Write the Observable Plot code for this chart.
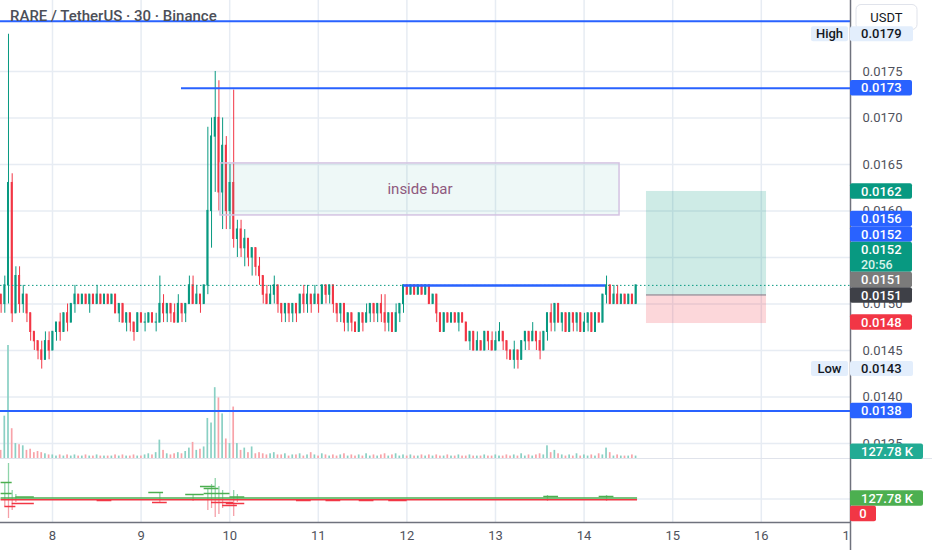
<!DOCTYPE html>
<html>
<head>
<meta charset="utf-8">
<script src="https://cdn.jsdelivr.net/npm/d3@7"></script>
<script src="https://cdn.jsdelivr.net/npm/@observablehq/plot@0.6"></script>
<style>
html,body{margin:0;padding:0;background:#fff;}
#chart{position:relative;width:932px;height:550px;overflow:hidden;background:#fff;}
</style>
</head>
<body>
<div id="chart"></div>
<script>
// ---------------- DATA ----------------
const title = "RARE / TetherUS · 30 · Binance";
const startDay = 7.42;          // first candle, day of month (hourly candles)
const firstOpen = 0.0151;
const closes = [
.0150,.0152,.0163,.0149,.0153,.0150,.0151,.0149,.0147,.0146,
.0145,.0144,.0146,.0145,.0147,.0148,.0147,.0149,.0148,.0150,
.0151,.0150,.0151,.0150,.0151,.0150,.0151,.0150,.0151,.0150,
.0151,.0149,.0150,.0148,.0149,.0148,.0147,.0149,.0148,.0148,
.0149,.0148,.0148,.0150,.0149,.0150,.0149,.0148,.0150,.0149,
.0150,.0152,.0150,.0151,.0150,.0152,.0160,.0168,.0170,.0162,
.0167,.0160,.0163,.0157,.0158,.0156,.0157,.0155,.0156,.0154,
.0153,.0151,.0150,.0151,.0152,.0150,.0149,.0150,.0149,.0150,
.0149,.0151,.0150,.0151,.0150,.0151,.0150,.0152,.0151,.0152,
.0150,.0149,.0150,.0148,.0149,.0148,.0147,.0149,.0148,.0149,
.0150,.0149,.0150,.0149,.0148,.0149,.0147,.0149,.0150,.0152,
.0151,.0152,.0151,.0152,.0151,.0152,.0150,.0151,.0149,.0147,
.0149,.0148,.0149,.0148,.0149,.0148,.0146,.0147,.0145,.0146,
.0145,.0147,.0146,.0145,.0146,.0147,.0146,.0145,.0144,.0145,
.0144,.0146,.0147,.0146,.0147,.0146,.0145,.0147,.0149,.0148,
.0150,.0148,.0149,.0147,.0149,.0148,.0149,.0147,.0148,.0149,
.0147,.0149,.0148,.0151,.0152,.0150,.0151,.0150,.0151,.0150,
.0151,.0150,.0152];
const highs = [
.0151,.0153,.0179,.0164,.0154,.0154,.0152,.0151,.0149,.0147,
.0146,.0146,.0147,.0147,.0147,.0148,.0149,.0149,.0150,.0150,
.0152,.0151,.0151,.0151,.0151,.0151,.0152,.0151,.0151,.0151,
.0151,.0151,.0150,.0150,.0149,.0149,.0148,.0149,.0149,.0149,
.0149,.0149,.0149,.0153,.0151,.0150,.0150,.0150,.0151,.0150,
.0150,.0153,.0153,.0152,.0151,.0152,.0169,.0170,.0175,.0174,
.0170,.0168,.0165,.0173,.0159,.0159,.0158,.0157,.0156,.0156,
.0155,.0153,.0152,.0152,.0153,.0152,.0150,.0150,.0150,.0150,
.0150,.0151,.0152,.0152,.0151,.0152,.0151,.0152,.0152,.0152,
.0152,.0150,.0150,.0150,.0149,.0149,.0148,.0149,.0149,.0150,
.0150,.0150,.0150,.0151,.0151,.0149,.0149,.0150,.0150,.0152,
.0152,.0152,.0152,.0152,.0152,.0152,.0152,.0151,.0151,.0149,
.0149,.0149,.0149,.0149,.0149,.0149,.0148,.0147,.0147,.0147,
.0146,.0147,.0147,.0147,.0147,.0148,.0147,.0146,.0145,.0146,
.0145,.0146,.0147,.0147,.0148,.0147,.0147,.0147,.0149,.0150,
.0150,.0150,.0149,.0149,.0149,.0149,.0149,.0149,.0149,.0149,
.0149,.0149,.0149,.0151,.0153,.0152,.0152,.0152,.0151,.0151,
.0151,.0151,.0152];
const lows = [
.0149,.0149,.0150,.0148,.0149,.0149,.0149,.0148,.0146,.0145,
.0144,.0143,.0144,.0144,.0145,.0146,.0146,.0147,.0147,.0148,
.0149,.0150,.0150,.0150,.0149,.0150,.0150,.0150,.0150,.0150,
.0150,.0149,.0148,.0148,.0147,.0147,.0146,.0147,.0148,.0147,
.0148,.0148,.0147,.0148,.0148,.0148,.0148,.0148,.0148,.0148,
.0148,.0150,.0150,.0150,.0149,.0150,.0151,.0156,.0162,.0160,
.0158,.0158,.0158,.0156,.0155,.0155,.0154,.0154,.0153,.0153,
.0152,.0150,.0150,.0150,.0150,.0149,.0148,.0148,.0148,.0148,
.0148,.0149,.0149,.0149,.0149,.0150,.0149,.0150,.0150,.0150,
.0149,.0148,.0148,.0147,.0147,.0147,.0147,.0147,.0147,.0148,
.0148,.0148,.0148,.0148,.0147,.0147,.0147,.0147,.0148,.0149,
.0151,.0151,.0151,.0151,.0151,.0151,.0150,.0150,.0148,.0147,
.0147,.0148,.0148,.0148,.0147,.0148,.0146,.0145,.0145,.0145,
.0145,.0145,.0145,.0145,.0145,.0146,.0145,.0144,.0144,.0143,
.0143,.0144,.0145,.0145,.0146,.0145,.0144,.0145,.0146,.0147,
.0147,.0148,.0147,.0147,.0147,.0147,.0147,.0147,.0147,.0147,
.0147,.0147,.0148,.0148,.0150,.0150,.0150,.0150,.0150,.0150,
.0150,.0150,.0150];
const volumes = [
8,38,100,27,14,13,12,8,9,6,
7,6,5,4,4,3,4,3,4,3,
4,3,3,4,3,3,4,3,3,3,
3,4,3,4,3,3,4,3,3,4,
5,4,6,17,8,5,4,5,6,5,
7,10,15,8,9,11,36,32,63,54,
40,18,14,46,14,8,10,6,11,5,
6,5,4,5,6,4,4,5,3,4,
4,5,3,4,6,4,3,5,4,3,
4,3,4,5,3,4,3,4,3,5,
3,4,3,4,5,3,4,5,3,4,
3,4,3,3,4,3,4,3,4,3,
3,4,3,3,4,3,3,4,3,3,
3,4,3,3,4,3,3,4,3,4,
3,5,3,4,3,4,5,4,12,6,
8,5,4,3,4,3,5,3,4,3,
4,3,5,4,10,6,3,4,3,3,
3,4,3];

// lower indicator pane (values relative to its baseline)
const spikeIdx  = [1,2,3,4,43,52,56,57,58,59,60,63,64,148,164];
const spikeUp   = [16,35,8,4,6,4,10,14,20,12,8,8,4,3,3];
const spikeDown = [-8,-20,-12,-4,-4,-3,-12,-10,-19,-16,-10,-18,-4,-3,-3];
const greenStart = [0,0,4,40,50,54,55,55,62,147,162];
const greenEnd   = [3,3,9,44,55,58,59,62,66,151,166];
const greenVal   = [16,5,1.5,6,4,12,10,5,1.5,2,2];
const redStart = [1,3,41,57,60,61,26,80,88,97,105];
const redEnd   = [4,9,45,63,64,66,30,84,92,101,110];
const redVal   = [-8,-5,-4,-4,-7,-5,-2,-2,-2,-2,-2];

// drawings
const levelPrices = [0.01804, 0.01732, 0.01385];
const levelStarts = [7.4131, 9.456, 7.4131];
const shortLevelPrice = 0.0152;
const shortLevelTimes = [11.962, 14.242];
const insideBarTimes = [9.896, 14.40];
const insideBarPrices = [0.015952, 0.016511];
const insideBarText = "inside bar";
const positionTimes = [14.704, 16.059];
const positionEntry = 0.015097, positionTarget = 0.01621, positionStop = 0.01479;

// axis ticks
const priceTicks = [0.0135,0.0140,0.0145,0.0150,0.0155,0.0160,0.0165,0.0170,0.0175];
const dayTicks = [8,9,10,11,12,13,14,15,16,17];

// right-scale labels
const labelPrices = [0.01732,0.01621,0.0156,0.01521,0.0152,0.0151,0.01509,0.0148,0.01385];
const labelTexts  = ["0.0173","0.0162","0.0156","0.0152","0.0152","0.0151","0.0151","0.0148","0.0138"];
const labelSubs   = ["","","","","20:56","","","",""];
const labelFills  = ["#2962ff","#089981","#2962ff","#2962ff","#089981","#7b7b7b","#3e4047","#f23645","#2962ff"];
const highPrice = 0.0179, lowPrice = 0.0143;
const highLowTexts = ["High","Low"];
const volumeLabel = "127.78 K";
const indicatorLabels = ["127.78 K","0"];
const indicatorLabelVals = [0, -1];
const currencyText = "USDT";

// ---------------- CHART ----------------
const UP = "#089981", DOWN = "#f23645";
const GRID = "#e7ecf3";
const FONT = "Roboto, 'Open Sans', sans-serif";
const TEXT = "#4f525c";
const xDomain = [7.4131, 17.0068];
const priceDomain = [0.013328, 0.018263];
const chart = document.getElementById("chart");
function place(el, top) { el.style.position = "absolute"; el.style.left = "0px"; el.style.top = top + "px"; chart.appendChild(el); return el; }

const times = closes.map((_, i) => startDay + i / 24);
const candles = closes.map((c, i) => {
  const o = i ? closes[i - 1] : firstOpen;
  return {t: times[i], o, c, h: highs[i], l: lows[i], v: volumes[i], up: c >= o};
});
const pxDay = (xDomain[1] - xDomain[0]) / 850;
const half = 1.0 * pxDay, vhalf = 0.85 * pxDay;
candles.forEach(d => { d.x1 = d.t - half; d.x2 = d.t + half; d.vx1 = d.t - vhalf; d.vx2 = d.t + vhalf; });

const base = {width: 932, height: 459, marginLeft: 0, marginRight: 82, marginTop: 0, marginBottom: 0,
  style: {background: "transparent", fontFamily: FONT, fontSize: "13px", color: TEXT}};

// layer 1: grid + price axis
const gridPlot = Plot.plot({...base,
  x: {domain: xDomain, axis: null},
  y: {domain: priceDomain, axis: null},
  marks: [
    Plot.ruleX(dayTicks.slice(0, -1), {stroke: GRID, strokeWidth: 1.5}),
    Plot.ruleY(priceTicks, {stroke: GRID, strokeWidth: 1.5}),
    Plot.axisY(priceTicks, {anchor: "right", tickSize: 0, tickPadding: 12, tickFormat: d3.format(".4f"), fontSize: 13, fill: TEXT, label: null})
  ]});
place(gridPlot, 0);

// layer 2: volume overlay
const volPlot = Plot.plot({...base, marginTop: 345,
  x: {domain: xDomain, axis: null},
  y: {domain: [0, 100], axis: null},
  marks: [
    Plot.rect(candles, {x1: "vx1", x2: "vx2", y1: 0, y2: "v", fill: d => d.up ? "#8ad0c4" : "#f8a3a9"})
  ]});
place(volPlot, 0);

// layer 3: candles + drawings
const levels = levelPrices.map((p, i) => ({p, a: levelStarts[i], b: xDomain[1]}));
const pricePlot = Plot.plot({...base,
  x: {domain: xDomain, axis: null},
  y: {domain: priceDomain, axis: null},
  marks: [
    Plot.ruleX(candles, {x: "t", y1: "l", y2: "h", stroke: d => d.up ? UP : DOWN, strokeWidth: 1}),
    Plot.rect(candles, {x1: "x1", x2: "x2", y1: "o", y2: "c", fill: d => d.up ? UP : DOWN, insetTop: -0.6, insetBottom: -0.6}),
    Plot.ruleY([closes[closes.length - 1]], {stroke: UP, strokeDasharray: "1.5,2.5", strokeWidth: 1}),
    Plot.rect([{x1: insideBarTimes[0], x2: insideBarTimes[1], y1: insideBarPrices[0], y2: insideBarPrices[1]}],
      {x1: "x1", x2: "x2", y1: "y1", y2: "y2", fill: "#0a9a88", fillOpacity: 0.07, stroke: "#d4c3e2", strokeWidth: 1.5}),
    Plot.text([{x: (insideBarTimes[0] + insideBarTimes[1]) / 2, y: (insideBarPrices[0] + insideBarPrices[1]) / 2}],
      {x: "x", y: "y", text: () => insideBarText, fill: "#8e5a7e", fontSize: 15, fontFamily: FONT}),
    Plot.ruleY(levels, {y: "p", x1: "a", x2: "b", stroke: "#2962ff", strokeWidth: 2}),
    Plot.ruleY([{p: shortLevelPrice, a: shortLevelTimes[0], b: shortLevelTimes[1]}], {y: "p", x1: "a", x2: "b", stroke: "#2962ff", strokeWidth: 2.5}),
    Plot.rect([{x1: positionTimes[0], x2: positionTimes[1], y1: positionEntry, y2: positionTarget}],
      {x1: "x1", x2: "x2", y1: "y1", y2: "y2", fill: UP, fillOpacity: 0.2}),
    Plot.rect([{x1: positionTimes[0], x2: positionTimes[1], y1: positionStop, y2: positionEntry}],
      {x1: "x1", x2: "x2", y1: "y1", y2: "y2", fill: DOWN, fillOpacity: 0.2}),
    Plot.ruleY([{p: positionEntry, a: positionTimes[0], b: positionTimes[1]}], {y: "p", x1: "a", x2: "b", stroke: "#787b86", strokeWidth: 1})
  ]});
place(pricePlot, 0);

// layer 4: indicator pane + time axis (width 850 so the last label is clipped at the scale)
const spikes = spikeIdx.map((k, i) => ({t: times[k], up: spikeUp[i], dn: spikeDown[i]}));
const gDash = greenStart.map((s, i) => ({a: times[s], b: times[greenEnd[i]], v: greenVal[i]}));
const rDash = redStart.map((s, i) => ({a: times[s], b: times[redEnd[i]], v: redVal[i]}));
const tEnd = times[times.length - 1] + 0.4 / 24;
const indPlot = Plot.plot({width: 850, height: 91, marginLeft: 0, marginRight: 0, marginTop: 0, marginBottom: 28,
  style: {background: "transparent", fontFamily: FONT, fontSize: "13px", color: TEXT},
  x: {domain: xDomain, ticks: dayTicks, tickFormat: d => String(d), tickSize: 0, tickPadding: 8, label: null},
  y: {domain: [-24, 39], axis: null},
  marks: [
    Plot.ruleX(dayTicks.slice(0, -1), {stroke: GRID, strokeWidth: 1.5}),
    Plot.ruleY([-0.5], {stroke: GRID, strokeWidth: 1.5}),
    Plot.ruleX(spikes, {x: "t", y1: 0, y2: "up", stroke: "#8fd4aa", strokeWidth: 1.3}),
    Plot.ruleX(spikes, {x: "t", y1: 0, y2: "dn", stroke: "#f5a0a8", strokeWidth: 1.3}),
    Plot.ruleY([{v: -1.2, a: times[0], b: tEnd}], {y: "v", x1: "a", x2: "b", stroke: DOWN, strokeWidth: 1.6}),
    Plot.ruleY([{v: 0.5, a: times[0], b: tEnd}], {y: "v", x1: "a", x2: "b", stroke: "#4caf50", strokeWidth: 1.6}),
    Plot.ruleY(gDash, {y: "v", x1: "a", x2: "b", stroke: "#4caf50", strokeWidth: 1.5}),
    Plot.ruleY(rDash, {y: "v", x1: "a", x2: "b", stroke: DOWN, strokeWidth: 1.5}),
    Plot.frame({anchor: "bottom", stroke: "#6f727d", strokeWidth: 1.5})
  ]});
place(indPlot, 459);

// layer 5: scale labels and chrome
const svg = d3.create("svg").attr("width", 932).attr("height", 550)
  .style("font-family", FONT).style("pointer-events", "none");
place(svg.node(), 0);
svg.append("line").attr("x1", 0).attr("x2", 932).attr("y1", 458.5).attr("y2", 458.5).attr("stroke", "#e0e3eb").attr("stroke-width", 1);
svg.append("line").attr("x1", 850.5).attr("x2", 850.5).attr("y1", 0).attr("y2", 550).attr("stroke", "#6f727d").attr("stroke-width", 1.5);
svg.append("text").attr("x", 10).attr("y", 21).attr("font-size", 15).attr("font-weight", 500).attr("fill", "#4c4f58").text(title);
// currency box
svg.append("rect").attr("x", 856).attr("y", 4.5).attr("width", 61).attr("height", 25).attr("rx", 5).attr("fill", "#fff").attr("stroke", "#e0e3eb");
svg.append("text").attr("x", 886.5).attr("y", 21.5).attr("text-anchor", "middle").attr("font-size", 13).attr("fill", "#131722").text(currencyText);

function box(x, top, w, h, fill, lines, color, anchor) {
  svg.append("rect").attr("x", x).attr("y", top).attr("width", w).attr("height", h).attr("rx", 2).attr("fill", fill);
  const lh = h / lines.length;
  lines.forEach((s, k) => {
    svg.append("text").attr("x", anchor === "middle" ? x + w / 2 : x + 11).attr("y", top + lh * k + lh / 2)
      .attr("dy", "0.36em").attr("text-anchor", anchor || "start")
      .attr("font-size", k ? 12.5 : 13).attr("font-weight", 500).attr("fill", k ? (color === "#fff" ? "#d8f2ea" : color) : color).text(s);
  });
}
const ys = pricePlot.scale("y");
// High / Low markers
[[highPrice, highLowTexts[0]], [lowPrice, highLowTexts[1]]].forEach(([p, s]) => {
  const yc = ys.apply(p);
  box(811, yc - 7.5, 37, 15, "#e3eefc", [s], "#131722", "middle");
  box(850, yc - 7.5, 63, 15, "#e3eefc", [d3.format(".4f")(p)], "#131722");
});
// stacked price labels (pushed upward when they collide)
const items = labelPrices.map((p, i) => ({p, text: labelTexts[i], sub: labelSubs[i], fill: labelFills[i],
  yc: ys.apply(p), h: labelSubs[i] ? 30 : 15.5}));
let limit = Infinity;
items.slice().sort((a, b) => b.yc - a.yc).forEach(it => {
  const bottom = Math.min(it.yc + it.h / 2, limit);
  it.top = bottom - it.h; limit = it.top;
});
items.forEach(it => box(850, it.top, 62, it.h, it.fill, it.sub ? [it.text, it.sub] : [it.text], "#fff"));
// volume label
const vy = Math.min(volPlot.scale("y").apply(volumes[volumes.length - 1]), 458.5 - 7.5);
box(850, vy - 7.5, 73, 15.5, "#22ab94", [volumeLabel], "#fff");
// indicator labels (pushed downward)
const iy = indPlot.scale("y");
let lim2 = -Infinity;
indicatorLabels.forEach((s, k) => {
  const top = Math.max(iy.apply(indicatorLabelVals[k]) + 459 - 7.75, lim2);
  box(850, top, k ? 26 : 73, 15.5, k ? "#f23645" : "#4caf50", [s], "#fff", k ? "middle" : "start");
  lim2 = top + 15.5;
});
</script>
</body>
</html>
